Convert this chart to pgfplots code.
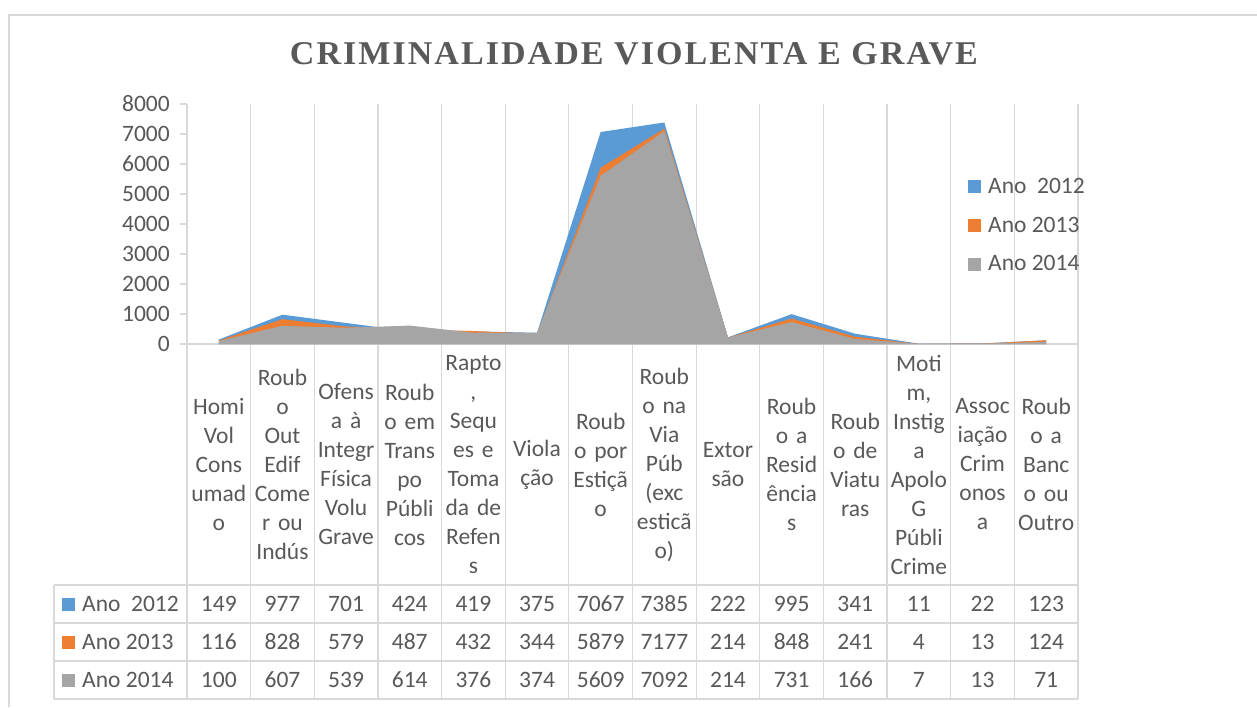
\documentclass[border=0pt]{standalone}
\usepackage{pgfplots}
\pgfplotsset{compat=1.18}
\usepackage{pgfplotstable}
\usepackage{fontspec}
\setmainfont{Carlito}
\newfontfamily\titlefont[LetterSpace=6]{Liberation Serif}
\definecolor{c12}{HTML}{5B9BD5}
\definecolor{c13}{HTML}{ED7D31}
\definecolor{c14}{HTML}{A5A5A5}
\definecolor{txt}{HTML}{595959}
\definecolor{grd}{HTML}{D9D9D9}
\pgfplotstableread{
x a2012 a2013 a2014
0.5 149 116 100
1.5 977 828 607
2.5 701 579 539
3.5 424 487 614
4.5 419 432 376
5.5 375 344 374
6.5 7067 5879 5609
7.5 7385 7177 7092
8.5 222 214 214
9.5 995 848 731
10.5 341 241 166
11.5 11 4 7
12.5 22 13 13
13.5 123 124 71
}\data
\begin{document}
\begin{tikzpicture}
\useasboundingbox (0pt,0pt) rectangle (1257pt,-707pt);
\fill[white] (0pt,0pt) rectangle (1257pt,-707pt);
\draw[grd, line width=1.5pt] (9pt,-707pt) -- (9pt,-15pt) -- (1257pt,-15pt);
\node[text=txt, anchor=center, inner sep=0pt] at (634pt,-54pt) {\resizebox{688pt}{22pt}{\titlefont\bfseries CRIMINALIDADE VIOLENTA E GRAVE}};
% table lines
\foreach \i in {0,...,14} \draw[grd, line width=1.2pt] ({(187+\i*63.643)*1pt},-344pt) -- ++(0pt,-355pt);
\foreach \yy in {585,623,661,699} \draw[grd, line width=1.2pt] (54pt,{-\yy*1pt}) -- (1078pt,{-\yy*1pt});
\draw[grd, line width=1.2pt] (54pt,-585pt) -- (54pt,-699pt);
\begin{axis}[
 at={(187pt,-344pt)}, anchor=south west,
 scale only axis, width=891pt, height=240pt,
 xmin=0, xmax=14, ymin=0, ymax=8000,
 clip=false,
 axis x line=bottom, axis y line=left,
 axis line style={-, draw=grd, line width=1.2pt},
 ytick={0,1000,...,8000},
 tick align=outside,
 major tick length=7pt,
 ytick style={draw=grd, line width=1.2pt},
 xtick={0.5,1.5,...,13.5},
 xticklabels={{Homi\\Vol\\Cons\\umad\\o},{Roub\\o\\Out\\Edif\\Come\\r ou\\Indús},{Ofens\\a à\\Integr\\Física\\Volu\\Grave},{Roub\\o em\\Trans\\po\\Públi\\cos},{Rapto\\,\\Sequ\\es e\\Toma\\da de\\Refen\\s},{Viola\\ção},{Roub\\o por\\Estiçã\\o},{Roub\\o na\\Via\\Púb\\(exc\\esticã\\o)},{Extor\\são},{Roub\\o a\\Resid\\ência\\s},{Roub\\o de\\Viatu\\ras},{Moti\\m,\\Instig\\a\\Apolo\\G\\Públi\\Crime},{Assoc\\iação\\Crim\\onos\\a},{Roub\\o a\\Banc\\o ou\\Outro}},
 major x tick style={draw=none},
 minor xtick={0,1,...,14},
 minor x tick style={draw=none},
 xminorgrids,
 minor grid style={draw=grd, line width=1.2pt},
 yticklabel style={font=\fontsize{23.5}{28}\selectfont, text=txt, inner sep=0pt, xshift=-10pt},
 xticklabel style={font=\fontsize{23.5}{29}\selectfont, text=txt, align=center, text width=64pt, inner sep=0pt, anchor=center, yshift=-113.5pt},
 /pgf/number format/1000 sep={},
 /pgf/number format/assume math mode=true,
 legend style={draw=none, fill=none, at={(0.8765,0.70)}, anchor=north west, font=\fontsize{23.5}{28}\selectfont, text=txt, row sep=18pt, inner sep=0pt, /tikz/every odd column/.append style={column sep=5pt}},
 legend cell align=left,
 legend image code/.code={\fill[#1] (0pt,-6.5pt) rectangle (13pt,6.5pt);},
]
\addplot[fill=c12, draw=none] table[x=x, y=a2012] {\data} \closedcycle;
\addlegendentry{Ano~~2012}
\addplot[fill=c13, draw=none] table[x=x, y=a2013] {\data} \closedcycle;
\addlegendentry{Ano 2013}
\addplot[fill=c14, draw=none] table[x=x, y=a2014] {\data} \closedcycle;
\addlegendentry{Ano 2014}
% data table rows
\addplot[forget plot, draw=none, mark=none, nodes near coords, nodes near coords align={center}, point meta=explicit symbolic, every node near coord/.append style={font=\fontsize{23.5}{28}\selectfont, text=txt, inner sep=0pt}] table[x=x, y expr=-8666.67, meta=a2012] {\data};
\addplot[forget plot, draw=none, mark=none, nodes near coords, nodes near coords align={center}, point meta=explicit symbolic, every node near coord/.append style={font=\fontsize{23.5}{28}\selectfont, text=txt, inner sep=0pt}] table[x=x, y expr=-9933.33, meta=a2013] {\data};
\addplot[forget plot, draw=none, mark=none, nodes near coords, nodes near coords align={center}, point meta=explicit symbolic, every node near coord/.append style={font=\fontsize{23.5}{28}\selectfont, text=txt, inner sep=0pt}] table[x=x, y expr=-11200, meta=a2014] {\data};
\end{axis}
% row labels of the data table
\fill[c12] (62pt,-597.5pt) rectangle (75pt,-610.5pt);
\node[anchor=west, text=txt, inner sep=0pt, font=\fontsize{23.5}{28}\selectfont] at (82pt,-604pt) {Ano~~2012};
\fill[c13] (62pt,-635.5pt) rectangle (75pt,-648.5pt);
\node[anchor=west, text=txt, inner sep=0pt, font=\fontsize{23.5}{28}\selectfont] at (82pt,-642pt) {Ano 2013};
\fill[c14] (62pt,-673.5pt) rectangle (75pt,-686.5pt);
\node[anchor=west, text=txt, inner sep=0pt, font=\fontsize{23.5}{28}\selectfont] at (82pt,-680pt) {Ano 2014};
\end{tikzpicture}
\end{document}
